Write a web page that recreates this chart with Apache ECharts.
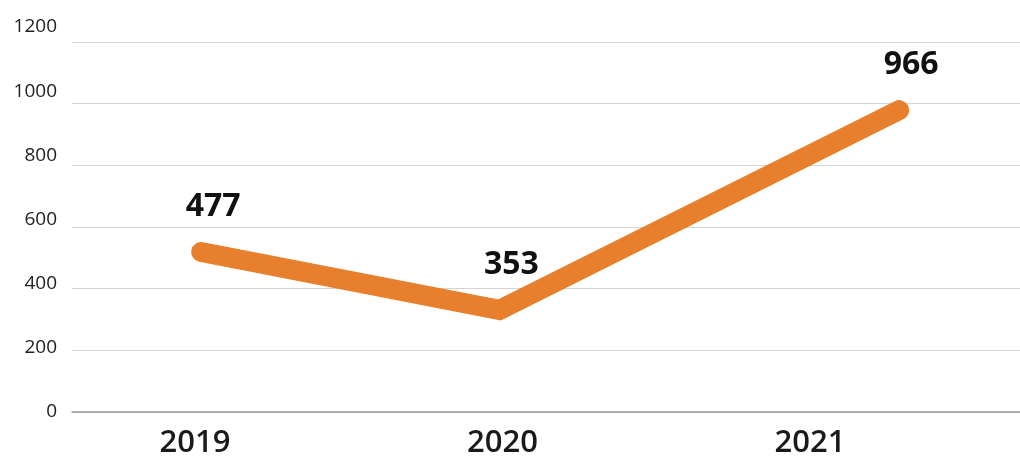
<!DOCTYPE html>
<html>
<head>
<meta charset="utf-8">
<script src="https://cdn.jsdelivr.net/npm/echarts@6/dist/echarts.min.js"></script>
<style>
html,body{margin:0;padding:0;background:#fff;}
#chart{width:1020px;height:460px;}
</style>
</head>
<body>
<div id="chart"></div>
<script>
// Data
const categories = ['2019', '2020', '2021'];
const categoryPos = [2019, 2020, 2021];
const linePos = [2019.02, 2019.99, 2021.29];   // where each point sits along the year axis
const lineValues = [519, 331, 979];             // drawn heights
const labelValues = [477, 353, 966];            // printed labels
const yTicks = [0, 200, 400, 600, 800, 1000, 1200];

const FONT = '"Open Sans", "Noto Sans", sans-serif';
const ORANGE = '#E77F2C';

const chart = echarts.init(document.getElementById('chart'));
chart.setOption({
  animation: false,
  backgroundColor: '#ffffff',
  grid: { left: 72, right: 0, top: 27, bottom: 48, containLabel: false },
  xAxis: {
    type: 'value',
    min: 2018.6,
    max: 2021.683,
    axisLine: { show: true, lineStyle: { color: '#9a9a9a', width: 1.5 } },
    axisTick: { show: false },
    splitLine: { show: false },
    axisLabel: {
      customValues: categoryPos,
      formatter: (v) => categories[categoryPos.indexOf(Math.round(v))] || '',
      fontFamily: FONT,
      fontSize: 31,
      fontWeight: 600,
      color: '#1a1a1a',
      margin: 16
    }
  },
  yAxis: [
    {
      type: 'value',
      min: 0,
      max: 1248.6,
      interval: 200,
      axisLine: { show: false },
      axisTick: { show: false },
      axisLabel: { show: false },
      splitLine: { show: true, showMaxLine: false, lineStyle: { color: '#d4d4d4', width: 1 } }
    },
    {
      type: 'value',
      position: 'left',
      min: 0,
      max: 1200,
      interval: 200,
      axisLine: { show: false },
      axisTick: { show: false },
      splitLine: { show: false },
      axisLabel: {
        customValues: yTicks,
        formatter: (v) => String(v),
        fontFamily: FONT,
        fontSize: 19,
        color: '#222222',
        margin: 15
      }
    }
  ],
  series: [{
    type: 'line',
    yAxisIndex: 0,
    data: linePos.map((x, i) => [x, lineValues[i]]),
    showSymbol: true,
    symbol: 'circle',
    symbolSize: 2,
    itemStyle: { color: ORANGE },
    lineStyle: { color: ORANGE, width: 20, cap: 'round', join: 'miter' },
    label: {
      show: true,
      position: 'top',
      distance: 28,
      offset: [12, 0],
      formatter: (p) => String(labelValues[p.dataIndex]),
      fontFamily: FONT,
      fontSize: 32,
      fontWeight: 'bold',
      color: '#111111'
    }
  }]
});
</script>
</body>
</html>
